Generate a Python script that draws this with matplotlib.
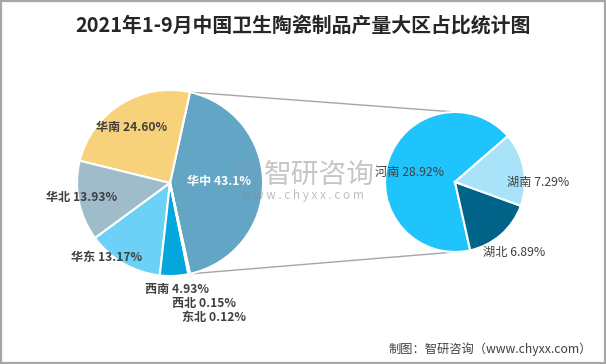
import numpy as np
import matplotlib.pyplot as plt
from matplotlib.patches import Rectangle

plt.rcParams['font.family'] = ['Noto Sans CJK SC', 'DejaVu Sans']

# left pie: regions (share, %)
regions = ['华中', '华南', '华北', '华东', '西南', '西北', '东北']
region_share = [43.1, 24.60, 13.93, 13.17, 4.93, 0.15, 0.12]
region_text = ['43.1%', '24.60%', '13.93%', '13.17%', '4.93%', '0.15%', '0.12%']
region_colors = ['#62A5C5', '#F8D27B', '#9EBCCA', '#6DD0F6', '#03A6DD', '#0A8BC0', '#2C7FA8']

# right pie: breakdown of 华中
provinces = ['河南', '湖北', '湖南']
province_share = [28.92, 6.89, 7.29]
province_colors = ['#1FC4FC', '#026389', '#A9E3F9']

W, H = 606, 364
fig = plt.figure(figsize=(W / 100, H / 100), dpi=100)
ax = fig.add_axes([0, 0, 1, 1])

# left pie, split slice centred on 3 o'clock
c1, r1 = (170, 181), 93
start1 = -region_share[0] / 100 * 360 / 2
w1, _ = ax.pie(region_share, colors=region_colors, startangle=start1, counterclock=True,
               center=c1, radius=r1, explode=[0.03, 0, 0, 0, 0, 0, 0],
               wedgeprops=dict(edgecolor='white', linewidth=1.5))

# right pie
c2, r2 = (455, 182), 70
w2, _ = ax.pie(province_share, colors=province_colors, startangle=41, counterclock=True,
               center=c2, radius=r2,
               wedgeprops=dict(edgecolor='white', linewidth=1.5))

# connector lines from split slice to second pie
hz = w1[0]
for th, side in [(hz.theta2, 1), (hz.theta1, -1)]:
    x0 = hz.center[0] + hz.r * np.cos(np.radians(th))
    y0 = hz.center[1] + hz.r * np.sin(np.radians(th))
    ax.plot([x0, c2[0]], [y0, c2[1] + side * r2], color='#A6A6A6', lw=1, zorder=0)

# labels
left_pos = [(187, 181), (96, 128), (46, 197), (71, 258), (145, 289), (172, 303), (182, 318)]
for i, (name, txt, (x, y)) in enumerate(zip(regions, region_text, left_pos)):
    col = 'white' if i == 0 else '#404040'
    ax.text(x, H - y, f'{name} {txt}', ha='left', fontsize=8.7, color=col, va='center',
            fontweight='bold', zorder=7)

right_text = {'河南': '28.92%', '湖北': '6.89%', '湖南': '7.29%'}
right_pos = {'河南': (375, 172), '湖北': (483, 252), '湖南': (507, 182)}
for p in provinces:
    x, y = right_pos[p]
    ax.text(x, H - y, f'{p} {right_text[p]}', ha='left', fontsize=8.8, color='#404040',
            va='center', zorder=7)

# watermark: block logo + text
logo = [(234, 163, 17, 4), (247, 163, 4, 12), (234, 173, 17, 4), (234, 173, 4, 14),
        (234, 183, 17, 4), (254, 163, 4, 4), (254, 170, 4, 17)]
for x, y, w, h in logo:
    ax.add_patch(Rectangle((x, H - y - h), w, h, color='#7B9AB3', alpha=0.3, lw=0, zorder=6))
ax.text(264, H - 175, '智研咨询', fontsize=20, color='#AFAFAF', alpha=0.7,
        ha='left', va='center', zorder=6)
ax.text(303, H - 196, 'w w w . c h y x x . c o m', fontsize=8.5, color='#8A8A8A',
        alpha=0.55, ha='center', va='center', zorder=6)

# title and source
ax.text(W / 2, H - 25, '2021年1-9月中国卫生陶瓷制品产量大区占比统计图', fontsize=14.3,
        fontweight='bold', color='#262626', ha='center', va='center')
ax.text(592, H - 349, '制图：智研咨询（www.chyxx.com）', fontsize=8.8, color='#404040',
        ha='right', va='center')

ax.add_patch(Rectangle((0.8, 0.8), W - 1.6, H - 1.6, fill=False, ec='#A6A6A6', lw=1.6))

ax.set_xlim(0, W)
ax.set_ylim(0, H)
ax.set_aspect('equal')
ax.axis('off')
fig.savefig('out.png', dpi=100)
